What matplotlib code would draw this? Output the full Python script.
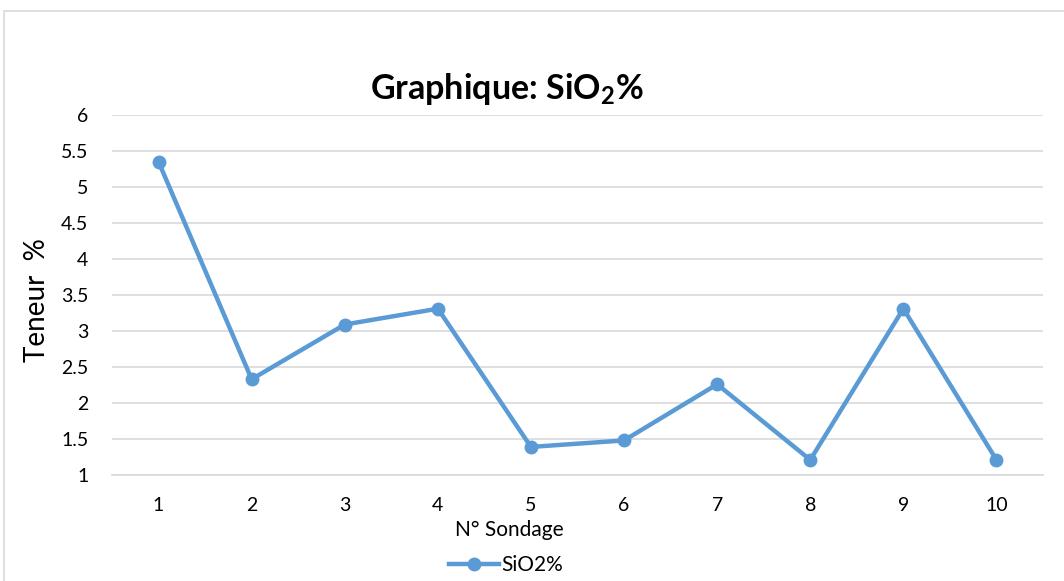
import matplotlib
matplotlib.use("Agg")
import matplotlib.pyplot as plt
from matplotlib.patches import Rectangle
from matplotlib.lines import Line2D

plt.rcParams['font.family'] = ['Lato', 'DejaVu Sans']
plt.rcParams['mathtext.default'] = 'regular'

# données
sondages = [1, 2, 3, 4, 5, 6, 7, 8, 9, 10]
sio2 = [5.35, 2.33, 3.09, 3.31, 1.39, 1.48, 2.26, 1.21, 3.31, 1.21]
yticks = [1, 1.5, 2, 2.5, 3, 3.5, 4, 4.5, 5, 5.5, 6]

bleu = '#5B9BD5'
W, H = 1064, 581

fig = plt.figure(figsize=(10.64, 5.81), dpi=100)
ax = fig.add_axes([112 / W, 1 - 475 / H, (1043 - 112) / W, 360 / H])

# cadre gris du graphique
fig.patches.append(Rectangle((4 / W, -0.1), 1.2, 1.1 - 11 / H,
                             transform=fig.transFigure, fill=False,
                             edgecolor='#d9d9d9', linewidth=1.2))

ax.plot(sondages, sio2, color=bleu, linewidth=3.2, marker='o', markersize=9)

ax.set_xlim(0.5, 10.5)
ax.set_ylim(1, 6)
ax.set_xticks(sondages)
ax.set_xticklabels([str(s) for s in sondages])
ax.set_yticks(yticks)
ax.set_yticklabels(['1', '1.5', '2', '2.5', '3', '3.5', '4', '4.5', '5', '5.5', '6'])
ax.grid(axis='y', color='#d9d9d9', linewidth=1.2)
ax.set_axisbelow(True)
for s in ['top', 'right', 'left']:
    ax.spines[s].set_visible(False)
ax.spines['bottom'].set_color('#d9d9d9')
ax.spines['bottom'].set_linewidth(1.2)
ax.tick_params(axis='both', length=0, labelsize=14, colors='#000000')
ax.tick_params(axis='x', pad=16)
ax.tick_params(axis='y', pad=17)

fig.text(509 / W, 1 - 530 / H, 'N° Sondage', ha='center', va='center', fontsize=15)
fig.text(37 / W, 1 - 300 / H, 'Teneur  %', ha='center', va='center',
         rotation=90, fontsize=20)
fig.text(507 / W, 1 - 89 / H, 'Graphique: SiO$_2$%', ha='center', va='center',
         fontsize=24.5, fontweight='bold')

poignee = Line2D([], [], color=bleu, linewidth=3.2, marker='o', markersize=9)
fig.legend([poignee], ['SiO2%'], loc='center', bbox_to_anchor=(506 / W, 1 - 565 / H),
           frameon=False, fontsize=15, handlelength=2.4, handletextpad=0.1)

fig.savefig('out.png', dpi=100)
